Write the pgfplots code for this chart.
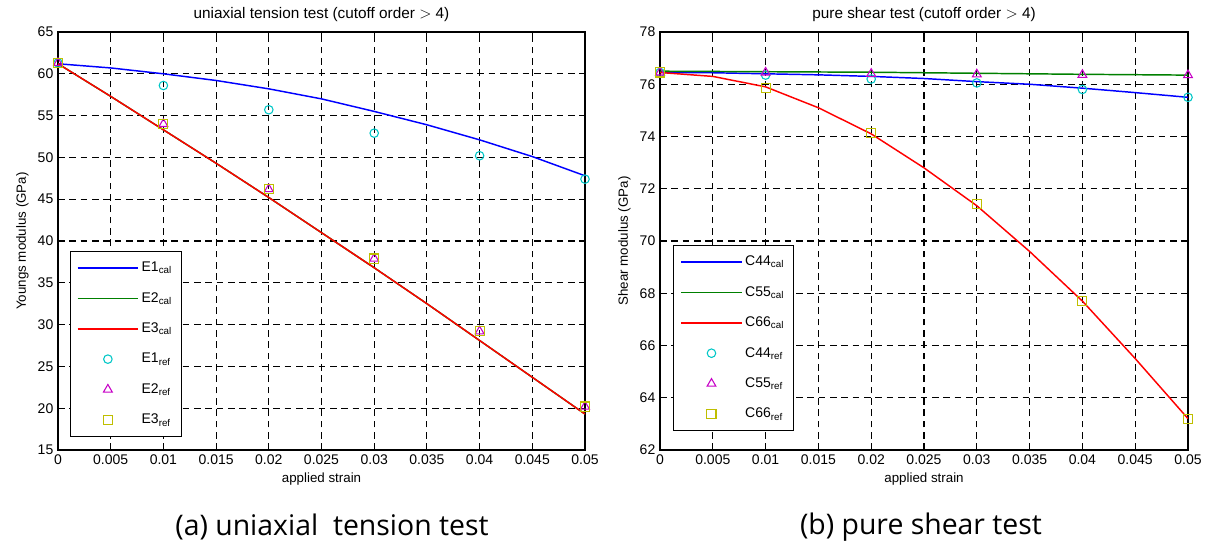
\documentclass[border=0pt]{standalone}
\usepackage{pgfplots}
\pgfplotsset{compat=1.18}
\usepackage{fontspec}
\setmainfont{Liberation Sans}
\newfontfamily\capfont{Open Sans}

\definecolor{mcyan}{rgb}{0,0.78,0.78}
\definecolor{mmag}{rgb}{0.78,0,0.78}
\definecolor{myel}{rgb}{0.75,0.75,0}
\definecolor{mgreen}{rgb}{0,0.5,0}

\pgfplotsset{
  matlab/.style={
    scale only axis,
    width=395.25pt, height=313.5pt,
    xmin=0, xmax=0.05,
    xtick={0,0.005,0.01,0.015,0.02,0.025,0.03,0.035,0.04,0.045,0.05},
    scaled x ticks=false,
    xticklabel style={/pgf/number format/.cd, fixed, precision=3},
    /pgf/number format/assume math mode=true,
    tick align=inside,
    major tick length=4pt,
    grid=major,
    major grid style={black, dash pattern=on 5pt off 3.5pt, line width=0.8pt},
    axis line style={black, line width=0.9pt},
    tick style={black, line width=0.8pt},
    ticklabel style={font=\fontsize{10.5}{12}\selectfont},
    xlabel style={font=\fontsize{10}{12}\selectfont, yshift=1pt},
    ylabel style={font=\fontsize{10}{12}\selectfont},
    title style={font=\fontsize{11.5}{13}\selectfont, yshift=-2pt},
    xlabel={applied strain},
    legend cell align=left,
    legend style={font=\fontsize{10.5}{12}\selectfont, draw=black, line width=0.8pt,
      anchor=south west, row sep=10pt, inner xsep=5pt, inner ysep=6pt},
    legend image code/.code={\draw[mark repeat=2,mark phase=2,#1] plot coordinates {(0cm,0cm) (0.8cm,0cm) (1.6cm,0cm)};},
    cal/.style={line width=1.1pt, no marks},
    ref/.style={only marks, line width=0.8pt, mark options={solid, fill=none}},
  }
}

\begin{document}
\begin{tikzpicture}
\useasboundingbox (0,0) rectangle (909pt,410.25pt);

\begin{axis}[matlab,
  at={(43.5pt,72.75pt)}, anchor=south west,
  ymin=15, ymax=65, ytick={15,20,...,65},
  ylabel={Youngs modulus (GPa)},
  title={uniaxial tension test (cutoff order $>$ 4)},
  legend style={at={(0.022,0.031)}},
]
\addplot[cal, blue] coordinates {
 (0,61.2) (0.005,60.7) (0.01,60.0) (0.015,59.2) (0.02,58.2) (0.025,57.0)
 (0.03,55.5) (0.035,53.9) (0.04,52.1) (0.045,50.1) (0.05,47.8)};
\addplot[cal, mgreen] coordinates {
 (0,61.2) (0.005,57.3) (0.01,53.3) (0.015,49.3) (0.02,45.2) (0.025,41.0)
 (0.03,36.8) (0.035,32.5) (0.04,28.1) (0.045,23.7) (0.05,19.3)};
\addplot[cal, red] coordinates {
 (0,61.2) (0.005,57.3) (0.01,53.3) (0.015,49.3) (0.02,45.2) (0.025,41.0)
 (0.03,36.8) (0.035,32.5) (0.04,28.1) (0.045,23.7) (0.05,19.3)};
\addplot[ref, mcyan, mark=o, mark size=3.2pt] coordinates {
 (0,61.3) (0.01,58.6) (0.02,55.7) (0.03,52.9) (0.04,50.2) (0.05,47.4)};
\addplot[ref, mmag, mark=triangle, mark size=3.8pt] coordinates {
 (0,61.3) (0.01,54.0) (0.02,46.2) (0.03,37.9) (0.04,29.2) (0.05,20.2)};
\addplot[ref, myel, mark=square, mark size=3.4pt] coordinates {
 (0,61.3) (0.01,54.0) (0.02,46.2) (0.03,37.9) (0.04,29.2) (0.05,20.2)};
\legend{E1\textsubscript{cal}, E2\textsubscript{cal}, E3\textsubscript{cal},
        E1\textsubscript{ref}, E2\textsubscript{ref}, E3\textsubscript{ref}}
\end{axis}

\begin{axis}[matlab,
  at={(495pt,72.75pt)}, anchor=south west, width=396pt,
  ymin=62, ymax=78, ytick={62,64,...,78},
  ylabel={Shear modulus (GPa)},
  title={pure shear test (cutoff order $>$ 4)},
  legend style={at={(0.025,0.045)}},
]
\addplot[cal, blue] coordinates {
 (0,76.45) (0.005,76.44) (0.01,76.4) (0.015,76.36) (0.02,76.3) (0.025,76.22)
 (0.03,76.1) (0.035,76.0) (0.04,75.85) (0.045,75.68) (0.05,75.5)};
\addplot[cal, mgreen] coordinates {
 (0,76.5) (0.01,76.48) (0.02,76.46) (0.03,76.42) (0.04,76.38) (0.05,76.35)};
\addplot[cal, red] coordinates {
 (0,76.45) (0.005,76.3) (0.01,75.9) (0.015,75.1) (0.02,74.1) (0.025,72.8)
 (0.03,71.35) (0.035,69.6) (0.04,67.7) (0.045,65.5) (0.05,63.2)};
\addplot[ref, mcyan, mark=o, mark size=3.2pt] coordinates {
 (0,76.45) (0.01,76.35) (0.02,76.2) (0.03,76.05) (0.04,75.8) (0.05,75.5)};
\addplot[ref, mmag, mark=triangle, mark size=3.8pt] coordinates {
 (0,76.45) (0.01,76.45) (0.02,76.4) (0.03,76.38) (0.04,76.36) (0.05,76.35)};
\addplot[ref, myel, mark=square, mark size=3.4pt] coordinates {
 (0,76.45) (0.01,75.85) (0.02,74.15) (0.03,71.4) (0.04,67.7) (0.05,63.2)};
\legend{C44\textsubscript{cal}, C55\textsubscript{cal}, C66\textsubscript{cal},
        C44\textsubscript{ref}, C55\textsubscript{ref}, C66\textsubscript{ref}}
\end{axis}

\node[font=\capfont\fontsize{21.3}{24}\selectfont] at (249pt,15pt) {(a) uniaxial\ \ tension test};
\node[font=\capfont\fontsize{21.3}{24}\selectfont] at (690.75pt,15pt) {(b) pure shear test};
\end{tikzpicture}
\end{document}
